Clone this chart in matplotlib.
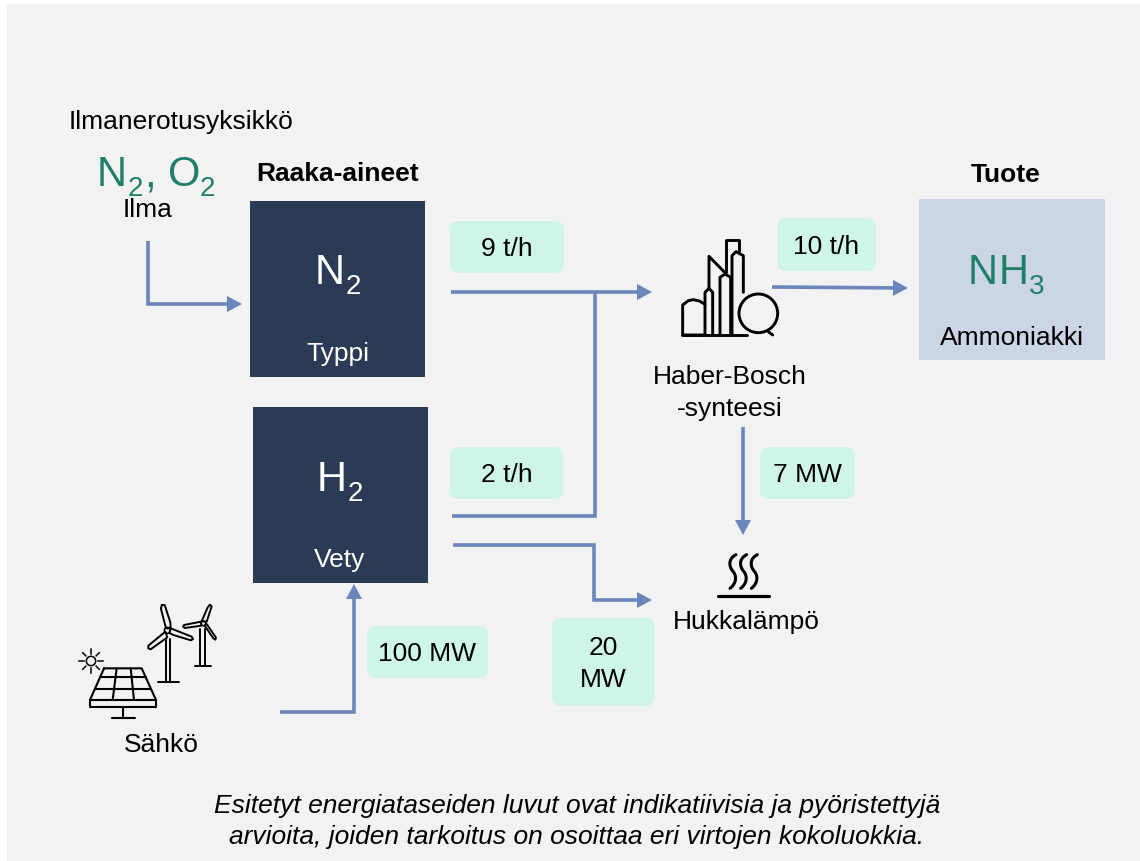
import matplotlib
matplotlib.use("Agg")
import numpy as np
import matplotlib.pyplot as plt
from matplotlib.patches import Rectangle, FancyBboxPatch, Circle, PathPatch, Polygon
from matplotlib.path import Path

plt.rcParams['font.family'] = ['Liberation Sans', 'DejaVu Sans']

W, H = 1140, 862
BG, DARK, LIGHT, MINT = '#f2f2f2', '#2b3b55', '#cbd5e6', '#cff5e9'
FLOW, GREEN, INK = '#6a86bb', '#1f7f68', '#000000'
FS, FS_BIG, FS_SUB = 19.0, 30.0, 20.0

# Boxes: x0, y0, x1, y1
dark_boxes = [(250, 201, 425, 377), (253, 407, 428, 583)]
product_box = (919, 199, 1105, 360)
# Flow labels: text, x0, y0, x1, y1
flow_labels = [
    ('9 t/h', 450, 221, 564, 273),
    ('2 t/h', 450, 447, 563, 499),
    ('10 t/h', 777, 218, 876, 271),
    ('7 MW', 760, 447, 855, 499),
    ('100 MW', 367, 626, 488, 678),
    ('20\nMW', 552, 618, 655, 706),
]
# Flow routes
arrow_routes = [
    [(148, 241), (148, 304), (242, 304)],
    [(451, 292), (652, 292)],
    [(453, 545), (594, 545), (594, 600), (652, 600)],
    [(280, 712), (354, 712), (354, 584)],
    [(772, 287), (908, 288)],
    [(743, 427), (743, 535)],
]
plain_routes = [[(452, 516), (595, 516), (595, 292)]]
# Text: string, x, y, size, colour, weight, style
labels = [
    ('Ilmanerotusyksikkö', 181, 120, FS, INK, 'normal', 'normal'),
    ('Ilma', 148, 208, FS, INK, 'normal', 'normal'),
    ('Raaka-aineet', 338, 172, FS, INK, 'bold', 'normal'),
    ('Tuote', 1006, 173, FS, INK, 'bold', 'normal'),
    ('Typpi', 338, 352, FS, 'white', 'normal', 'normal'),
    ('Vety', 340, 558, FS, 'white', 'normal', 'normal'),
    ('Ammoniakki', 1012, 336, FS, INK, 'normal', 'normal'),
    ('Haber-Bosch', 730, 375, FS, INK, 'normal', 'normal'),
    ('-synteesi', 730, 407, FS, INK, 'normal', 'normal'),
    ('Hukkalämpö', 746, 620, FS, INK, 'normal', 'normal'),
    ('Sähkö', 161, 743, FS, INK, 'normal', 'normal'),
    ('Esitetyt energiataseiden luvut ovat indikatiivisia ja pyöristettyjä', 577, 804, FS, INK, 'normal', 'italic'),
    ('arvioita, joiden tarkoitus on osoittaa eri virtojen kokoluokkia.', 577, 835, FS, INK, 'normal', 'italic'),
]
# Formula pieces: string, left x, baseline y, size, colour
formula_runs = [
    ('N', 97, 185, FS_BIG, GREEN), ('2', 128, 195, FS_SUB, GREEN),
    (',', 144, 185, FS_BIG, GREEN), ('O', 168, 185, FS_BIG, GREEN),
    ('2', 200, 195, FS_SUB, GREEN),
    ('N', 315, 282.7, FS_BIG, 'white'), ('2', 345.5, 293.3, FS_SUB, 'white'),
    ('H', 317, 490, FS_BIG, 'white'), ('2', 347.5, 500, FS_SUB, 'white'),
    ('N', 967.5, 282.7, FS_BIG, GREEN), ('H', 999, 282.7, FS_BIG, GREEN),
    ('3', 1029, 293.3, FS_SUB, GREEN),
]
# Icon outlines, in units of the icon's own crop (1/3 pixel)
factory_lines = [
    [(135, 318), (68, 318), (68, 228), (85, 215), (100, 212), (118, 216), (135, 226)],
    [(135, 318), (135, 190), (147, 178), (158, 190), (158, 318)],
    [(147, 178), (147, 82), (192, 128)],
    [(180, 318), (180, 145), (195, 135), (212, 145), (212, 318)],
    [(197, 130), (197, 33), (237, 33), (237, 65)],
    [(216, 318), (216, 80), (228, 68), (250, 80), (250, 190)],
    [(66, 318), (260, 318)],
    [(325, 308), (338, 318)],
]
factory_circle = (295, 253, 58)
panel_lines = [
    [(132, 238), (245, 238), (288, 333), (90, 333), (132, 238)],
    [(90, 333), (90, 355), (288, 355), (288, 333)],
    [(189, 355), (189, 388)], [(155, 388), (224, 388)],
    [(120, 265), (258, 265)], [(105, 300), (273, 300)],
    [(170, 238), (158, 333)], [(212, 238), (222, 333)],
]
sun = (93, 216, 14)
sun_ray_angles = [0, 45, 90, 135, 180, 225, 270, 315]
turbine_lines = [
    [(317, 150), (317, 280)], [(330, 150), (330, 280)], [(293, 280), (356, 280)],
    [(421, 120), (421, 231)], [(435, 120), (435, 231)], [(406, 231), (452, 231)],
]
turbine_blades = [
    [(318, 118), (303, 60), (305, 48), (314, 48), (331, 100), (332, 118)],
    [(332, 118), (395, 143), (399, 150), (393, 154), (340, 138), (328, 132)],
    [(316, 128), (265, 170), (265, 178), (272, 181), (322, 145)],
    [(425, 97), (443, 55), (450, 47), (455, 52), (440, 98)],
    [(423, 98), (372, 108), (369, 113), (375, 117), (424, 110)],
    [(434, 110), (460, 148), (466, 152), (468, 146), (440, 105)],
]
turbine_hubs = [(322, 124, 9), (430, 103, 7)]
heat_base = [(55, 170), (208, 170)]
heat_wave = [(108, 47), (82, 60), (88, 85), (99, 97), (112, 112), (108, 135), (90, 148)]
heat_offsets = [0, 32, 64]

fig = plt.figure(figsize=(W / 100, H / 100), dpi=100, facecolor='white')
ax = fig.add_axes([0, 0, 1, 1])
ax.set_xlim(0, W)
ax.set_ylim(H - 1, -1)
ax.axis('off')

ax.add_patch(Rectangle((7, 4), W - 7, H - 3, fc=BG, ec='none', zorder=0))
for x0, y0, x1, y1 in dark_boxes:
    ax.add_patch(Rectangle((x0, y0), x1 - x0, y1 - y0, fc=DARK, ec='none', zorder=1))
x0, y0, x1, y1 = product_box
ax.add_patch(Rectangle((x0, y0), x1 - x0, y1 - y0, fc=LIGHT, ec='none', zorder=1))

for text, x0, y0, x1, y1 in flow_labels:
    ax.add_patch(FancyBboxPatch((x0 + 9, y0 + 9), x1 - x0 - 18, y1 - y0 - 18,
                                boxstyle='round,pad=9,rounding_size=9',
                                fc=MINT, ec='none', zorder=1))
    ax.text((x0 + x1) / 2, (y0 + y1) / 2 + 1, text, ha='center', va='center',
            fontsize=FS, color=INK, zorder=3, linespacing=1.38)

LW = 2.6
for route in plain_routes:
    xs, ys = zip(*route)
    ax.plot(xs, ys, color=FLOW, lw=LW, solid_joinstyle='miter', solid_capstyle='butt', zorder=2)
for route in arrow_routes:
    (xa, ya), (xb, yb) = route[-2], route[-1]
    d = np.hypot(xb - xa, yb - ya)
    ux, uy = (xb - xa) / d, (yb - ya) / d
    L, hw = 15, 8
    pts = np.array(route, float)
    pts[-1] = (xb - L * ux + 1 * ux, yb - L * uy + 1 * uy)
    ax.plot(pts[:, 0], pts[:, 1], color=FLOW, lw=LW, solid_joinstyle='miter',
            solid_capstyle='butt', zorder=2)
    ax.add_patch(Polygon([(xb, yb), (xb - L * ux - hw * uy, yb - L * uy + hw * ux),
                          (xb - L * ux + hw * uy, yb - L * uy - hw * ux)],
                         closed=True, fc=FLOW, ec='none', zorder=2))

for s, x, y, size, col, weight, style in labels:
    ax.text(x, y + 1, s, ha='center', va='center', fontsize=size, color=col,
            fontweight=weight, fontstyle=style, zorder=4)
for s, x, y, size, col in formula_runs:
    ax.text(x, y, s, ha='left', va='baseline', fontsize=size, color=col, zorder=4)


def icon_lines(lines, ox, oy, lw):
    for line in lines:
        pts = np.array(line, float) / 3 + (ox, oy)
        ax.plot(pts[:, 0], pts[:, 1], color='black', lw=lw, solid_capstyle='round',
                solid_joinstyle='round', zorder=3)


# Factory
icon_lines(factory_lines, 660, 229, 2.1)
cx, cy, r = factory_circle
ax.add_patch(Circle((660 + cx / 3, 229 + cy / 3), r / 3, fc='none', ec='black', lw=2.1, zorder=3))

# Solar panel, sun, wind turbines
icon_lines(panel_lines, 60, 589, 1.5)
icon_lines(turbine_lines, 60, 589, 1.4)
for blade in turbine_blades:
    pts = np.array(blade, float) / 3 + (60, 589)
    ax.add_patch(Polygon(pts, closed=True, fc='none', ec='black', lw=1.4,
                         joinstyle='round', zorder=3))
for hx, hy, hr in turbine_hubs:
    ax.add_patch(Circle((60 + hx / 3, 589 + hy / 3), hr / 3, fc='none', ec='black', lw=1.1, zorder=3))
sx, sy, sr = sun
ax.add_patch(Circle((60 + sx / 3, 589 + sy / 3), sr / 3, fc='none', ec='black', lw=1.1, zorder=3))
for a in np.radians(sun_ray_angles):
    ax.plot([60 + (sx + 22 * np.cos(a)) / 3, 60 + (sx + 35 * np.cos(a)) / 3],
            [589 + (sy + 22 * np.sin(a)) / 3, 589 + (sy + 35 * np.sin(a)) / 3],
            color='black', lw=1.1, zorder=3)

# Heat icon
icon_lines([heat_base], 700, 539, 2.3)
codes = [Path.MOVETO] + [Path.CURVE4] * 6
for off in heat_offsets:
    pts = (np.array(heat_wave, float) + (off, 0)) / 3 + (700, 539)
    ax.add_patch(PathPatch(Path(pts, codes), fc='none', ec='black', lw=2.2,
                           capstyle='round', zorder=3))

fig.savefig('out.png', dpi=100, facecolor='white')
